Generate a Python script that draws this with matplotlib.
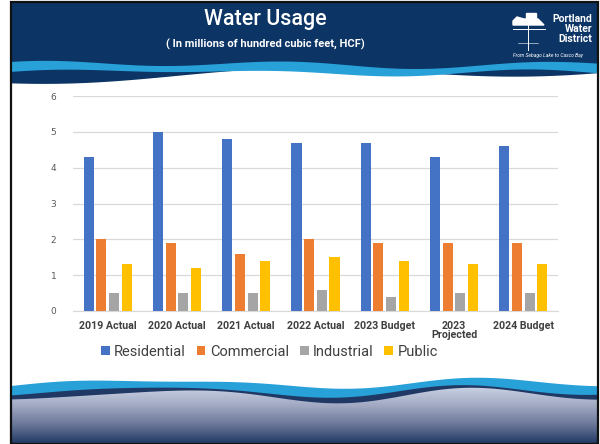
import numpy as np
import matplotlib.pyplot as plt
from matplotlib.patches import Polygon, Rectangle
from matplotlib.colors import LinearSegmentedColormap

categories = ['2019 Actual', '2020 Actual', '2021 Actual', '2022 Actual',
              '2023 Budget', '2023\nProjected', '2024 Budget']
residential = [4.3, 5.0, 4.8, 4.7, 4.7, 4.3, 4.6]
commercial = [2.0, 1.9, 1.6, 2.0, 1.9, 1.9, 1.9]
industrial = [0.5, 0.5, 0.5, 0.6, 0.4, 0.5, 0.5]
public = [1.3, 1.2, 1.4, 1.5, 1.4, 1.3, 1.3]

series = [('Residential', residential, '#4472c4'),
          ('Commercial', commercial, '#ed7d31'),
          ('Industrial', industrial, '#a5a5a5'),
          ('Public', public, '#ffc000')]

navy = '#0c3464'
dark = '#1f3864'
light = '#28a0d8'
font = ['Roboto', 'DejaVu Sans']

fig = plt.figure(figsize=(6, 4.44), dpi=100)

# background decorations in pixel coordinates
bg = fig.add_axes([0, 0, 1, 1])
bg.set_xlim(0, 600)
bg.set_ylim(444, 0)
bg.axis('off')

x = np.linspace(11, 598, 300)
# header
top_edge = 64 + 3 * np.sin((x - 100) / 40) - 1.5 * np.sin(x / 90)
low_edge = 78 + 6 * np.sin((x + 60) / 75) - 3 * (x - 11) / 587 * 3
bg.fill_between(x, 2, low_edge, color=navy, lw=0)
light_low = top_edge + 8 + 2 * np.sin((x + 80) / 50)
bg.fill_between(x, top_edge, light_low, color=light, lw=0)

# bottom
b_top = 383 - 4 * np.sin((x - 60) / 55) - 2 * np.sin(x / 33)
b_mid = b_top + 8 + 2 * np.sin((x + 20) / 40)
b_low = b_mid + 4 + 2 * np.sin((x - 10) / 45)
grad = np.linspace(0, 1, 100).reshape(-1, 1)
cmap = LinearSegmentedColormap.from_list('g', ['#cdd4e6', '#a3abc4', '#6c7899', dark])
im = bg.imshow(grad, extent=[11, 598, 444, 385], aspect='auto', cmap=cmap, zorder=1)
poly = Polygon(np.column_stack([np.r_[x, 598, 11], np.r_[b_mid, 444, 444]]),
               closed=True, transform=bg.transData)
im.set_clip_path(poly)
bg.fill_between(x, b_mid - 2, b_low, color=dark, lw=0, zorder=2)
bg.fill_between(x, b_top, b_mid, color=light, lw=0, zorder=3)

# frame
bg.add_patch(Rectangle((11, 2), 587, 442, fill=False, ec='#111111', lw=1.6, zorder=5))

# titles
fig.text(265 / 600, 1 - 20 / 444, 'Water Usage', color='white', fontsize=15.5,
         fontweight='medium', ha='center', va='center', family=font)
fig.text(265 / 600, 1 - 44 / 444, '( In millions of hundred cubic feet, HCF)',
         color='white', fontsize=8, fontweight='bold', ha='center', va='center',
         family=font)

# logo
fig.text(592 / 600, 1 - 29 / 444, 'Portland\nWater\nDistrict', color='white',
         fontsize=7.5, fontweight='bold', ha='right', va='center', linespacing=1.0,
         family=font)
fig.text(548 / 600, 1 - 56 / 444, 'From Sebago Lake to Casco Bay', color='white',
         fontsize=3.6, style='italic', ha='center', va='center', family=font)
bg.plot([528, 528], [22, 50], color='white', lw=0.7)
bg.plot([513, 545], [29, 29], color='white', lw=0.7)
bg.plot([518, 538], [43, 43], color='white', lw=0.4)
bg.add_patch(Rectangle((526, 13), 10, 7, color='white'))
bg.add_patch(Polygon([[513, 21], [517, 17], [524, 19], [538, 19], [544, 25], [513, 25]],
                     closed=True, color='white'))

# chart
ax = fig.add_axes([73 / 600, 1 - 311 / 444, 485 / 600, 215 / 444])
idx = np.arange(len(categories))
w = 0.145
step = 0.183
for i, (name, vals, col) in enumerate(series):
    ax.bar(idx + (i - 1.5) * step, vals, w, color=col, label=name, zorder=3)

ax.set_xlim(-0.5, len(categories) - 0.5)
ax.set_ylim(0, 6)
ax.set_yticks(range(0, 7))
ax.grid(axis='y', color='#d9d9d9', lw=0.9, zorder=0)
for s in ['top', 'right', 'left']:
    ax.spines[s].set_visible(False)
ax.spines['bottom'].set_color('#d9d9d9')
ax.tick_params(axis='both', length=0)
ax.tick_params(axis='y', labelsize=6.5, labelcolor='#595959', pad=12)
ax.set_xticks(idx)
ax.set_xticklabels(categories, fontsize=7.7, color='#404040', linespacing=0.95,
                   family=font, fontweight='bold')
ax.tick_params(axis='x', pad=7)

leg = ax.legend(loc='center', bbox_to_anchor=(0.405, -0.19), ncol=4, frameon=False,
                prop={'family': font, 'size': 10.5}, handlelength=0.6,
                handleheight=0.6, handletextpad=0.3, columnspacing=0.75)
for t in leg.get_texts():
    t.set_color('#404040')

fig.savefig('out.png', dpi=100)
